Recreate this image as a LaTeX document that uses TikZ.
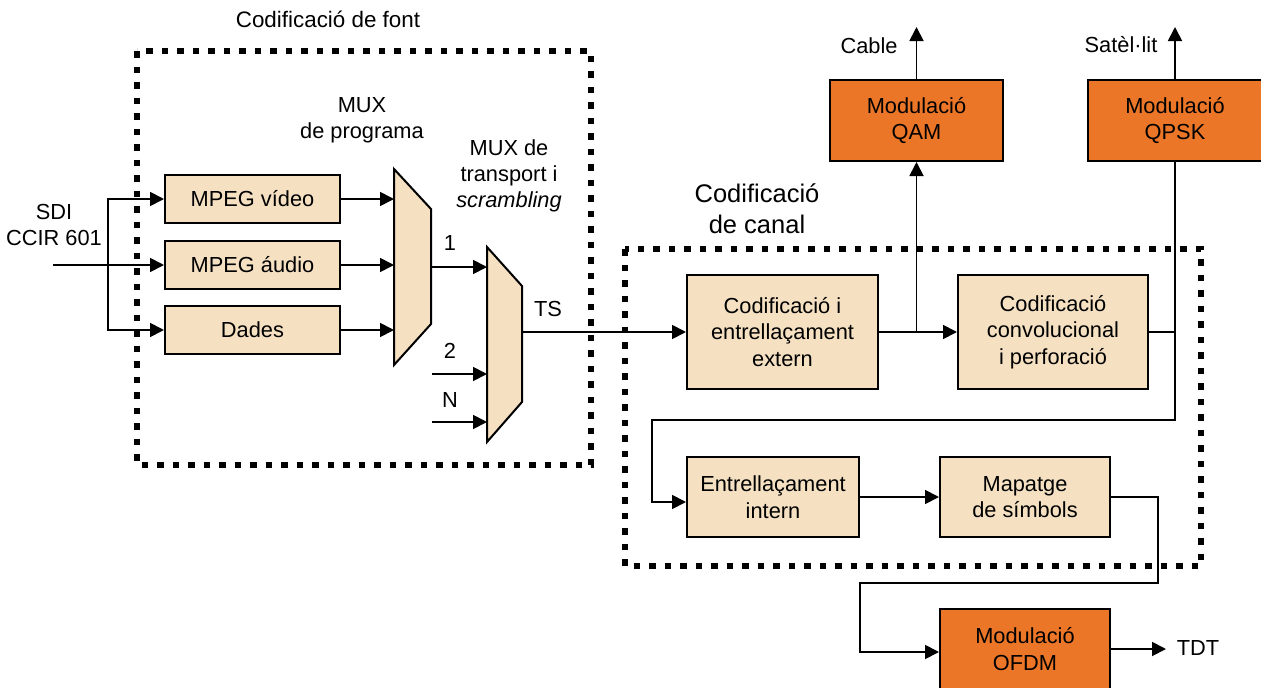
\documentclass[tikz,border=0pt]{standalone}
\usepackage{fontspec}
\setmainfont{Liberation Sans}
\usepackage{tikz}
\usetikzlibrary{positioning,calc,arrows.meta}
\definecolor{beige}{RGB}{245,225,194}
\definecolor{modorange}{RGB}{236,118,40}
\tikzset{
  blk/.style={draw,line width=2pt,fill=beige,align=center,inner sep=0pt,font=\fontsize{21.8}{26.5}\selectfont},
  modblk/.style={blk,fill=modorange},
  lbl/.style={align=center,inner sep=0pt,font=\fontsize{21.8}{26}\selectfont},
  ttl/.style={align=center,inner sep=0pt,font=\fontsize{22.4}{31}\selectfont},
  bigttl/.style={align=center,inner sep=0pt,font=\fontsize{25.5}{31}\selectfont},
  mux/.style={draw,line width=2pt,fill=beige,line join=miter},
  ln/.style={line width=1.8pt},
  arr/.style={line width=1.8pt,-{Triangle[length=14pt,width=14pt]}},
  dots/.style={line width=5.5pt,dash pattern=on 6.5pt off 9pt},
}
\begin{document}
\begin{tikzpicture}[x=1pt,y=-1pt]
      \useasboundingbox (0,0) rectangle (1261,688);
      \draw[dots] (137,51) rectangle (591,465);
      \draw[dots] (625,249) rectangle (1201,566);
      \node[ttl] (tfont) at (328,19) {Codificació de font};
      \node[bigttl] (tcanal) at (757,209) {Codificació\\de canal};
      \node[lbl] (sdi) at (54,225) {SDI\\CCIR 601};
      \node[blk,minimum width=175pt,minimum height=48pt] (video) at (252.5,199) {MPEG vídeo};
      \node[blk,minimum width=175pt,minimum height=48pt] (audio) at (252.5,265) {MPEG áudio};
      \node[blk,minimum width=175pt,minimum height=48pt] (dades) at (252.5,330) {Dades};
      \draw[mux] (394,169) coordinate (m1) -- (431,209) -- (431,324) -- (394,365) -- cycle;
      \draw[mux] (487,247) coordinate (m2) -- (522,286) -- (522,402) -- (487,442) -- cycle;
      \node[lbl] (tmux1) at (362,120) {MUX\\de programa};
      \node[lbl] (tmux2) at (509,176) {MUX de\\transport i\\\textit{scrambling}};
      \node[blk,minimum width=191pt,minimum height=114pt] (ext) at (782.5,332) {Codificació i\\entrellaçament\\extern};
      \node[blk,minimum width=190pt,minimum height=114pt] (conv) at (1053,332) {Codificació\\convolucional\\i perforació};
      \node[modblk,minimum width=173pt,minimum height=81pt] (qam) at (916.5,120.5) {Modulació\\QAM};
      \node[modblk,minimum width=174pt,minimum height=81pt] (qpsk) at (1175,120.5) {Modulació\\QPSK};
      \node[blk,minimum width=172pt,minimum height=80pt] (intern) at (773,497) {Entrellaçament\\intern};
      \node[blk,minimum width=170pt,minimum height=80pt] (mapa) at (1025,497) {Mapatge\\de símbols};
      \node[modblk,minimum width=170pt,minimum height=81pt] (ofdm) at (1025,649) {Modulació\\OFDM};
      \coordinate (in) at (53,265);
      \coordinate (br) at (108,265);
      \coordinate (m1o) at (431,267);
      \coordinate (in2) at (432,374);
      \coordinate (inN) at (432,422);
      \coordinate (m2o) at (522,332);
      \coordinate (lp1) at (1175,420);
      \coordinate (lp2) at (652,420);
      \coordinate (lp3) at (1158,583);
      \coordinate (lp4) at (860,583);
      \draw[arr] (in) -- (audio.west);
      \draw[arr] (br) |- (video.west);
      \draw[arr] (br) |- (dades.west);
      \draw[arr] (video.east) -- (video.east -| m1);
      \draw[arr] (audio.east) -- (audio.east -| m1);
      \draw[arr] (dades.east) -- (dades.east -| m1);
      \draw[arr] (m1o) -- (m1o -| m2);
      \draw[arr] (in2) -- (in2 -| m2);
      \draw[arr] (inN) -- (inN -| m2);
      \draw[arr] (m2o) -- (ext.west);
      \draw[arr] (ext) -- (conv);
      \draw[arr] (qam.south |- ext.east) -- (qam.south);
      \draw[arr] (qam.north) -- ++(0,-52) coordinate (cable);
      \draw[arr] (qpsk.north) -- ++(0,-52) coordinate (sat);
      \draw[ln] (conv.east) -- (conv.east -| qpsk.south) -- (qpsk.south);
      \draw[arr] (conv.east -| qpsk.south) -- (lp1) -- (lp2) |- ([yshift=-5pt]intern.west);
      \draw[arr] (intern) -- (mapa);
      \draw[arr] (mapa.east) -| (lp3) -- (lp4) |- ([yshift=-3pt]ofdm.west);
      \draw[arr] (ofdm.east) -- ++(55,0) coordinate (tdt);
      \node[lbl] (l1) at (450,243) {1};
      \node[lbl] (l2) at (450,351) {2};
      \node[lbl] (lN) at (450,400) {N};
      \node[lbl] (lts) at (548,309) {TS};
      \node[lbl] (lcable) at (869,46) {Cable};
      \node[lbl] (lsat) at (1121,45) {Satèl·lit};
      \node[lbl] (ltdt) at (1198,648) {TDT};
\end{tikzpicture}
\end{document}
